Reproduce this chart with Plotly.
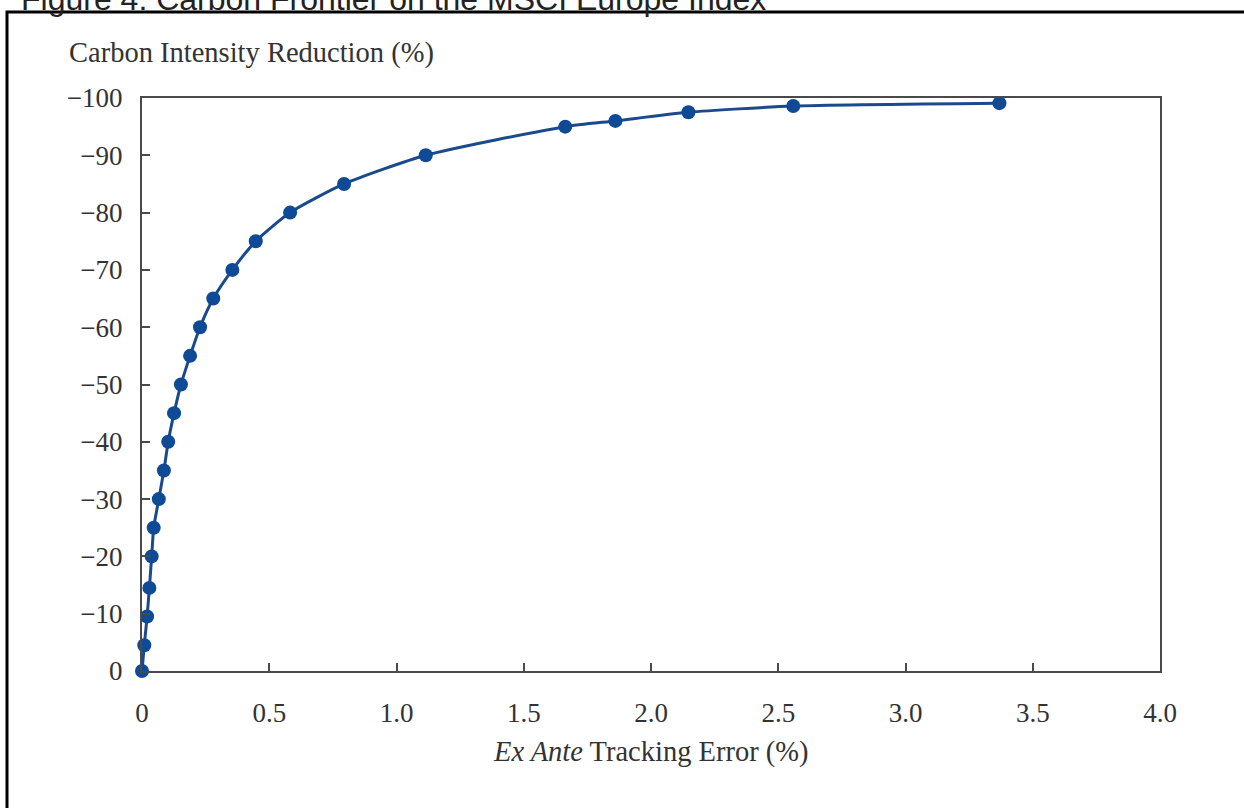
import plotly.graph_objects as go

# Data
tracking_error = [0.0, 0.009, 0.020, 0.029, 0.038, 0.046, 0.066, 0.086, 0.103, 0.126,
                  0.153, 0.189, 0.228, 0.280, 0.355, 0.447, 0.582, 0.794, 1.115, 1.663,
                  1.860, 2.147, 2.559, 3.369]
carbon_reduction = [0, -4.5, -9.5, -14.5, -20, -25, -30, -35, -40, -45,
                    -50, -55, -60, -65, -70, -75, -80, -85, -90, -95,
                    -96, -97.5, -98.6, -99.1]

x_tickvals = [0, 0.5, 1.0, 1.5, 2.0, 2.5, 3.0, 3.5, 4.0]
x_ticktext = ["0", "0.5", "1.0", "1.5", "2.0", "2.5", "3.0", "3.5", "4.0"]
y_tickvals = [0, -10, -20, -30, -40, -50, -60, -70, -80, -90, -100]
y_ticktext = ["0", "−10", "−20", "−30", "−40", "−50", "−60", "−70", "−80", "−90", "−100"]

title_text = "Figure 4: Carbon Frontier on the MSCI Europe Index"
y_title = "Carbon Intensity Reduction (%)"
x_title = "<i>Ex Ante</i> Tracking Error (%)"

W, H = 1244, 808
L, R, T, B = 142, 84, 98, 137
PW, PH = W - L - R, H - T - B

def px(x):
    return (x - L) / PW

def py(y):
    return (H - B - y) / PH

serif = "Liberation Serif"
blue = "#0f4a96"

fig = go.Figure()
fig.add_trace(go.Scatter(
    x=tracking_error, y=carbon_reduction,
    mode="lines+markers",
    line=dict(color="#1b4a8c", width=3, shape="spline", smoothing=0.6),
    marker=dict(color=blue, size=14),
    cliponaxis=False,
    showlegend=False,
))

axis_common = dict(
    showline=True, linecolor="#4a4a4a", linewidth=2, mirror=True,
    ticks="inside", ticklen=8, tickwidth=1.5, tickcolor="#4a4a4a",
    showgrid=False, zeroline=False,
    tickfont=dict(family=serif, size=27, color="#333333"),
)

fig.update_layout(
    width=W, height=H,
    margin=dict(l=L, r=R, t=T, b=B),
    paper_bgcolor="white", plot_bgcolor="white",
    xaxis=dict(range=[0, 4], tickvals=x_tickvals, ticktext=x_ticktext,
               ticklabelstandoff=17, **axis_common),
    yaxis=dict(range=[0, -100], tickvals=y_tickvals, ticktext=y_ticktext,
               ticklabelstandoff=12, **axis_common),
    annotations=[
        dict(text=y_title, x=px(67), y=py(53), xref="paper", yref="paper",
             xanchor="left", yanchor="middle", showarrow=False,
             font=dict(family=serif, size=28.5, color="#333333")),
        dict(text=x_title, x=0.5, y=py(752), xref="paper", yref="paper",
             xanchor="center", yanchor="middle", showarrow=False,
             font=dict(family=serif, size=28.5, color="#333333")),
        dict(text=title_text, x=px(19), y=py(19), xref="paper", yref="paper",
             xanchor="left", yanchor="bottom", showarrow=False,
             font=dict(family="Liberation Sans", size=32, color="#222222")),
    ],
    shapes=[
        dict(type="rect", xref="paper", yref="paper",
             x0=px(7), x1=px(1260), y0=py(830), y1=py(12),
             line=dict(color="black", width=3), fillcolor="rgba(0,0,0,0)",
             layer="above"),
    ],
)

fig.write_html(
    "out.html",
    config={"displayModeBar": False},
    post_script="document.body.style.margin='0';document.body.style.overflow='hidden';",
)
